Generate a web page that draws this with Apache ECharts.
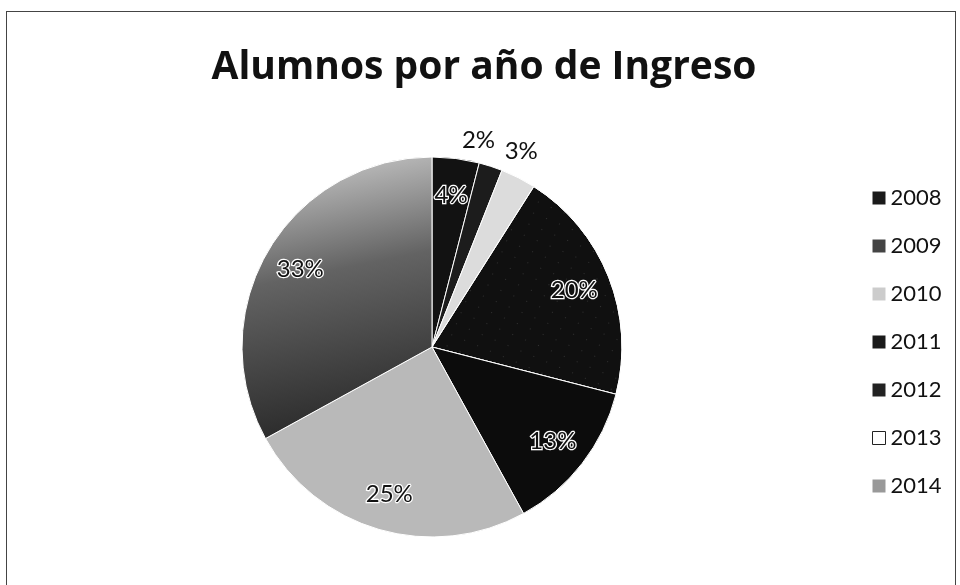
<!DOCTYPE html>
<html>
<head>
<meta charset="utf-8">
<script src="https://cdn.jsdelivr.net/npm/echarts@6/dist/echarts.min.js"></script>
<style>
html,body{margin:0;padding:0;background:#fff;}
#frame{position:absolute;left:6px;top:11px;width:950px;height:600px;border:1px solid #444;box-sizing:border-box;}
#chart{position:absolute;left:0;top:0;width:960px;height:585px;}
</style>
</head>
<body>
<div id="frame"></div>
<div id="chart"></div>
<script>
const titleText = 'Alumnos por año de Ingreso';
const years = ['2008','2009','2010','2011','2012','2013','2014'];
const percents = [4, 2, 3, 20, 13, 25, 33];

const sliceColors = {
  '2008': '#121212',
  '2009': '#1c1c1c',
  '2010': '#dcdcdc',
  '2011': '#101010',
  '2012': '#0c0c0c',
  '2013': '#b9b9b9',
  '2014': {type:'linear', x:0, y:0, x2:0.3, y2:1, colorStops:[
    {offset:0, color:'#d2d2d2'}, {offset:0.45, color:'#636363'}, {offset:1, color:'#2a2a2a'}]}
};
const legendColors = {
  '2008':'#1a1a1a','2009':'#444','2010':'#ccc','2011':'#1a1a1a','2012':'#222','2013':'#fff','2014':'#999'
};
const outsideLabels = {'2009':[-24,-5], '2010':[-12,-7]};

const font = 'Lato, "Open Sans", sans-serif';
const chart = echarts.init(document.getElementById('chart'), null, {renderer:'canvas'});

const mainData = years.map((y,i)=>{
  const item = {name:y, value:percents[i], itemStyle:{color:sliceColors[y]}};
  if (y === '2011') {
    item.itemStyle.decal = {symbol:'rect', symbolSize:0.5, color:'rgba(255,255,255,0.55)',
      dashArrayX:[[1,13]], dashArrayY:[1,11], rotation:0.4};
  }
  if (outsideLabels[y]) {
    item.label = {show:true, position:'outside', offset:outsideLabels[y]};
  } else {
    item.label = {show:false};
  }
  return item;
});
const overlayData = years.map((y,i)=>({
  name:y, value:percents[i],
  label:{show: !outsideLabels[y]}
}));

chart.setOption({
  backgroundColor:'transparent',
  animation:false,
  title:{
    text:titleText, left:479, top:43, textAlign:'center',
    textStyle:{fontFamily:'"Open Sans", Lato, sans-serif', fontWeight:'bold', fontSize:39, color:'#111'}
  },
  legend:{
    orient:'vertical', left:867, top:181,
    itemWidth:13, itemHeight:13, itemGap:24,
    icon:'rect',
    data: years.map(y=>({name:y, itemStyle:{color:legendColors[y], borderColor:'#222', borderWidth: y==='2013'?1:0}})),
    textStyle:{fontFamily:font, fontSize:22, color:'#111', lineHeight:24, padding:[0,0,0,0]}
  },
  series:[
    {
      type:'pie', name:'main',
      center:[432,347], radius:[0,190],
      startAngle:90, clockwise:true,
      avoidLabelOverlap:false,
      legendHoverLink:false,
      itemStyle:{borderColor:'#fff', borderWidth:1},
      label:{fontFamily:font, fontSize:24, color:'#111', formatter:'{c}%'},
      labelLine:{show:false, length:22, length2:0},
      labelLayout:{align:'center', verticalAlign:'middle'},
      data:mainData
    },
    {
      type:'pie', name:'labels',
      center:[432,347], radius:[0,300],
      startAngle:90, clockwise:true,
      silent:true,
      itemStyle:{color:'rgba(0,0,0,0)', borderWidth:0},
      label:{position:'inside', fontFamily:font, fontSize:24, color:'#111',
        textBorderColor:'#fff', textBorderWidth:2.5, formatter:'{c}%'},
      labelLine:{show:false},
      data:overlayData
    }
  ]
});
</script>
</body>
</html>
